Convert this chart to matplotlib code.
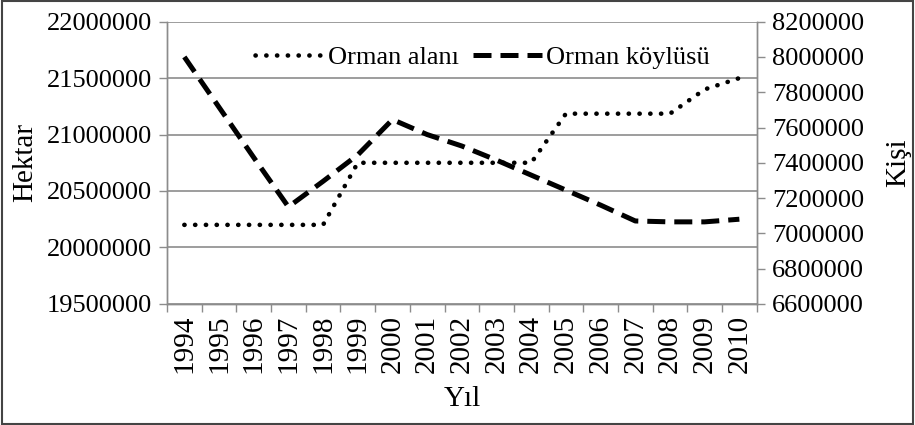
import matplotlib
matplotlib.use("Agg")
import matplotlib.pyplot as plt
import numpy as np
from matplotlib.patches import Rectangle
from matplotlib.ticker import StrMethodFormatter

plt.rcParams['font.family'] = ['Liberation Serif', 'DejaVu Serif']

# Veriler
years = ['1994', '1995', '1996', '1997', '1998', '1999', '2000', '2001', '2002',
         '2003', '2004', '2005', '2006', '2007', '2008', '2009', '2010']
orman_alani = [20200000, 20200000, 20200000, 20200000, 20200000, 20750000, 20750000,
               20750000, 20750000, 20750000, 20750000, 21185000, 21185000, 21185000,
               21185000, 21400000, 21500000]
orman_koylusu = [8000000, 7715000, 7430000, 7150000, 7295000, 7445000, 7645000,
                 7560000, 7495000, 7415000, 7330000, 7245000, 7160000, 7070000,
                 7065000, 7065000, 7080000]

fig = plt.figure(figsize=(9.15, 4.25), dpi=100)
ax = fig.add_axes([0.1825, 0.285, 0.6445, 0.664])
ax2 = ax.twinx()

x = np.arange(len(years))
grid_c = '#8c8c8c'

l1, = ax.plot(x, orman_alani, color='black', lw=3.3, linestyle=(0, (0.05, 2.3)),
              dash_capstyle='round', label='Orman alanı')
l2, = ax2.plot(x, orman_koylusu, color='black', lw=3.6, linestyle=(0, (3.6, 1.8)),
               dash_capstyle='butt', label='Orman köylüsü')

ax.set_xlim(-0.5, len(years) - 0.5)
ax.set_ylim(19500000, 22000000)
ax.set_yticks(np.arange(19500000, 22000001, 500000))
ax2.set_ylim(6600000, 8200000)
ax2.set_yticks(np.arange(6600000, 8200001, 200000))
ax.yaxis.set_major_formatter(StrMethodFormatter('{x:.0f}'))
ax2.yaxis.set_major_formatter(StrMethodFormatter('{x:.0f}'))

ax.yaxis.grid(True, color=grid_c, lw=1.2)
ax.set_axisbelow(True)

ax.set_xticks(x)
ax.set_xticklabels(years, rotation=90)
ax.set_xticks(np.arange(-0.5, len(years)), minor=True)
ax.tick_params(axis='x', which='major', length=0, pad=8, labelsize=21)
ax.tick_params(axis='x', which='minor', length=6, color=grid_c, width=1)
ax.tick_params(axis='y', length=6, color=grid_c, width=1, labelsize=19, pad=5)
ax2.tick_params(axis='y', length=6, color=grid_c, width=1, labelsize=19, pad=5)

for a in (ax, ax2):
    for s in a.spines.values():
        s.set_color(grid_c)
        s.set_linewidth(1)
    a.spines['top'].set_visible(False)

ax.set_ylabel('Hektar', fontsize=21, labelpad=6)
ax2.set_ylabel('Kişi', fontsize=21, labelpad=15)
ax.set_xlabel('Yıl', fontsize=21, labelpad=9)

ax.legend([l1, l2], ['Orman alanı', 'Orman köylüsü'], loc='upper center',
          bbox_to_anchor=(0.535, 1.0), ncol=2, frameon=False, fontsize=19,
          handlelength=2.6, handletextpad=0.15, columnspacing=0.55)

fig.patches.append(Rectangle((0.002, 0.003), 0.996, 0.994, transform=fig.transFigure,
                             fill=False, edgecolor='#444444', lw=1.5))

fig.savefig('out.png', dpi=100)
